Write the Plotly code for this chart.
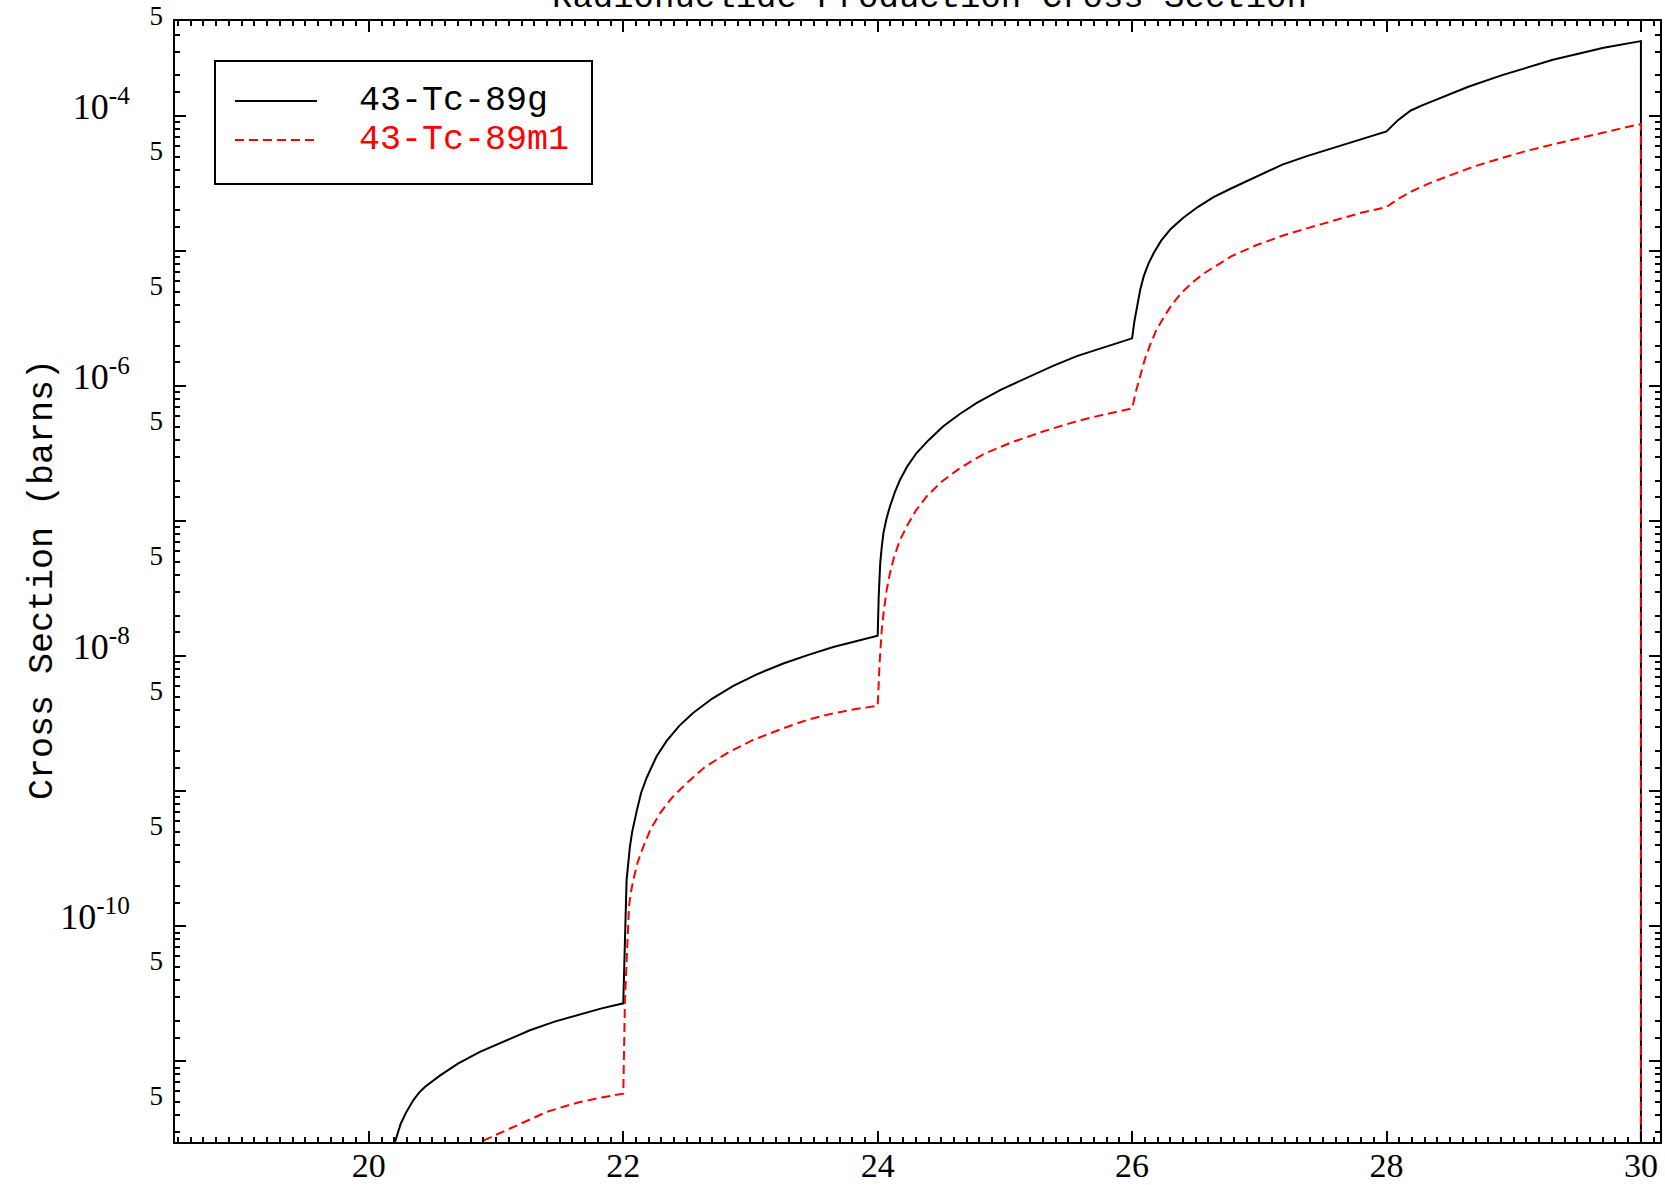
import plotly.graph_objects as go

# Incident energy (MeV) and production cross sections (barns)
energy_g = [20.200, 20.225, 20.250, 20.290, 20.349, 20.395, 20.440, 20.558, 20.700, 20.873,
            21.060, 21.266, 21.460, 21.659, 21.830, 22.000, 22.006, 22.013, 22.026, 22.052,
            22.070, 22.105, 22.140, 22.184, 22.260, 22.341, 22.440, 22.551, 22.700, 22.865,
            23.050, 23.258, 23.450, 23.651, 23.830, 24.000, 24.008, 24.013, 24.020, 24.032,
            24.045, 24.070, 24.097, 24.135, 24.176, 24.235, 24.307, 24.400, 24.516, 24.640,
            24.779, 24.970, 25.172, 25.370, 25.565, 25.780, 26.000, 26.018, 26.038, 26.063,
            26.091, 26.128, 26.171, 26.230, 26.304, 26.400, 26.516, 26.640, 26.782, 26.980,
            27.181, 27.380, 27.580, 27.790, 28.000, 28.090, 28.191, 28.280, 28.378, 28.643,
            28.909, 29.308, 29.707, 30.000, 30.000]
xs_g = [2.44e-12, 2.96e-12, 3.44e-12, 4.14e-12, 5.15e-12, 5.87e-12, 6.46e-12, 7.85e-12, 9.62e-12, 1.175e-11,
        1.41e-11, 1.70e-11, 1.97e-11, 2.24e-11, 2.47e-11, 2.69e-11, 5.01e-11, 9.38e-11, 2.20e-10, 3.88e-10,
        5.01e-10, 7.10e-10, 9.71e-10, 1.26e-9, 1.80e-9, 2.36e-9, 3.05e-9, 3.82e-9, 4.86e-9, 6.03e-9,
        7.35e-9, 8.83e-9, 1.02e-8, 1.17e-8, 1.30e-8, 1.42e-8, 2.77e-8, 3.72e-8, 4.90e-8, 6.46e-8,
        8.17e-8, 1.05e-7, 1.29e-7, 1.64e-7, 2.03e-7, 2.57e-7, 3.21e-7, 3.98e-7, 5.05e-7, 6.17e-7,
        7.52e-7, 9.44e-7, 1.15e-6, 1.40e-6, 1.67e-6, 1.95e-6, 2.26e-6, 3.02e-6, 3.86e-6, 5.13e-6,
        6.50e-6, 8.04e-6, 9.73e-6, 1.20e-5, 1.46e-5, 1.76e-5, 2.12e-5, 2.51e-5, 2.92e-5, 3.59e-5,
        4.37e-5, 5.07e-5, 5.82e-5, 6.73e-5, 7.69e-5, 9.33e-5, 1.10e-4, 1.20e-4, 1.31e-4, 1.65e-4,
        2.01e-4, 2.61e-4, 3.20e-4, 3.59e-4, 1e-20]

energy_m1 = [20.800, 21.000, 21.135, 21.270, 21.397, 21.530, 21.659, 21.830, 22.000, 22.013,
             22.030, 22.045, 22.060, 22.078, 22.115, 22.157, 22.215, 22.288, 22.380, 22.498,
             22.640, 22.813, 23.020, 23.258, 23.450, 23.651, 23.830, 24.000, 24.015, 24.032,
             24.050, 24.071, 24.095, 24.123, 24.170, 24.228, 24.300, 24.386, 24.500, 24.648,
             24.830, 25.041, 25.300, 25.565, 25.780, 26.000, 26.030, 26.064, 26.100, 26.144,
             26.190, 26.250, 26.310, 26.383, 26.470, 26.570, 26.670, 26.782, 26.970, 27.181,
             27.380, 27.580, 27.790, 28.000, 28.090, 28.191, 28.330, 28.510, 28.700, 28.909,
             29.100, 29.308, 29.500, 29.707, 29.850, 30.000, 30.000]
xs_m1 = [2.35e-12, 2.85e-12, 3.27e-12, 3.73e-12, 4.22e-12, 4.62e-12, 5.00e-12, 5.40e-12, 5.77e-12, 2.82e-11,
         7.94e-11, 1.41e-10, 1.78e-10, 2.20e-10, 3.02e-10, 3.88e-10, 5.25e-10, 6.87e-10, 8.91e-10, 1.15e-9,
         1.51e-9, 1.91e-9, 2.40e-9, 2.93e-9, 3.39e-9, 3.78e-9, 4.07e-9, 4.29e-9, 8.91e-9, 1.57e-8,
         2.24e-8, 3.10e-8, 4.07e-8, 5.19e-8, 7.08e-8, 9.14e-8, 1.20e-7, 1.53e-7, 1.95e-7, 2.48e-7,
         3.13e-7, 3.80e-7, 4.62e-7, 5.50e-7, 6.17e-7, 6.84e-7, 9.12e-7, 1.22e-6, 1.58e-6, 2.05e-6,
         2.60e-6, 3.25e-6, 3.98e-6, 4.86e-6, 5.82e-6, 6.89e-6, 7.94e-6, 9.18e-6, 1.10e-5, 1.30e-5,
         1.48e-5, 1.68e-5, 1.91e-5, 2.12e-5, 2.43e-5, 2.75e-5, 3.16e-5, 3.67e-5, 4.27e-5, 4.90e-5,
         5.52e-5, 6.17e-5, 6.84e-5, 7.55e-5, 8.13e-5, 8.73e-5, 1e-20]

series_names = ["43-Tc-89g", "43-Tc-89m1"]
series_colors = ["black", "red"]

x_tick_vals = [20, 22, 24, 26, 28, 30]
x_tick_text = ["20", "22", "24", "26", "28", "30"]

decade_exps = list(range(-12, -2))
decade_vals = [10.0 ** e for e in decade_exps]
decade_text = [f"10<sup>{e}</sup>" if e % 2 == 0 else "" for e in decade_exps]
minor_mantissas = [1.5, 2, 3, 4, 5, 6, 7, 8, 9]
minor_vals = [m * 10.0 ** e for e in decade_exps for m in minor_mantissas]
minor_text = ["5" if m == 5 else "" for e in decade_exps for m in minor_mantissas]

X_RANGE = [18.476, 30.15]
Y_RANGE = [-11.597, -3.296]

W, H = 1665, 1185
ML, MR, MT, MB = 175, 5, 21, 43
PW, PH = W - ML - MR, H - MT - MB
TEXT_FONT = "Liberation Mono"
NUM_FONT = "Liberation Serif"


def px_x(px):
    return (px - ML) / PW


def px_y(px):
    return 1 - (px - MT) / PH


fig = go.Figure()
fig.add_trace(go.Scatter(x=energy_g, y=xs_g, mode="lines", name=series_names[0],
                         line=dict(color=series_colors[0], width=2)))
fig.add_trace(go.Scatter(x=energy_m1, y=xs_m1, mode="lines", name=series_names[1],
                         line=dict(color=series_colors[1], width=2, dash="9px,5px")))
# empty trace that carries the secondary (minor tick) log axis
fig.add_trace(go.Scatter(x=[None], y=[None], yaxis="y2", mode="lines",
                         showlegend=False, hoverinfo="skip"))

axis_common = dict(showgrid=False, zeroline=False, tickcolor="black", automargin=False)

fig.update_layout(
    width=W, height=H,
    margin=dict(l=ML, r=MR, t=MT, b=MB),
    paper_bgcolor="white", plot_bgcolor="white",
    showlegend=False,
    font=dict(family=TEXT_FONT, size=32, color="black"),
    xaxis=dict(
        range=X_RANGE, tickmode="array", tickvals=x_tick_vals, ticktext=x_tick_text,
        ticks="inside", ticklen=11, tickwidth=2, showline=True, linewidth=2,
        linecolor="black", mirror="ticks", tickfont=dict(family=NUM_FONT, size=34),
        ticklabelstandoff=-8,
        minor=dict(dtick=0.1, tick0=0, ticks="inside", ticklen=5, tickwidth=1.5,
                   tickcolor="black", showgrid=False),
        **axis_common,
    ),
    yaxis=dict(
        type="log", range=Y_RANGE, tickmode="array", tickvals=decade_vals,
        ticktext=decade_text, ticks="inside", ticklen=11, tickwidth=2,
        showline=True, linewidth=2, linecolor="black", mirror="ticks",
        tickfont=dict(family=NUM_FONT, size=36), ticklabelstandoff=36,
        ticklabelshift=-10,
        **axis_common,
    ),
    yaxis2=dict(
        type="log", range=Y_RANGE, overlaying="y", side="left", anchor="x",
        tickmode="array", tickvals=minor_vals, ticktext=minor_text,
        ticks="inside", ticklen=5, tickwidth=1.5, mirror="ticks", showline=False,
        tickfont=dict(family=NUM_FONT, size=27), ticklabelstandoff=11,
        ticklabelshift=-6,
        **axis_common,
    ),
)

# plot title, partly above the frame
fig.add_annotation(text="Radionuclide Production Cross Section", xref="paper", yref="paper",
                   x=px_x(929), y=px_y(-2), xanchor="center", yanchor="middle",
                   showarrow=False, font=dict(family=TEXT_FONT, size=34, color="black"))

# y-axis title
fig.add_annotation(text="Cross Section (barns)", xref="paper", yref="paper",
                   x=px_x(43), y=px_y(580), xanchor="center", yanchor="middle",
                   textangle=-90, showarrow=False,
                   font=dict(family=TEXT_FONT, size=35, color="black"))

# legend box
fig.add_shape(type="rect", xref="paper", yref="paper",
              x0=px_x(215), x1=px_x(592), y0=px_y(184), y1=px_y(61),
              line=dict(color="black", width=2), fillcolor="white", layer="above")
legend_rows = [101, 140]
dashes = ["solid", "9px,5px"]
for name, color, row, dash in zip(series_names, series_colors, legend_rows, dashes):
    fig.add_shape(type="line", xref="paper", yref="paper",
                  x0=px_x(235), x1=px_x(317), y0=px_y(row), y1=px_y(row),
                  line=dict(color=color, width=2, dash=dash), layer="above")
    fig.add_annotation(text=name, xref="paper", yref="paper",
                       x=px_x(357), y=px_y(row), xanchor="left", yanchor="middle",
                       showarrow=False, font=dict(family=TEXT_FONT, size=35, color=color))

fig.write_html("out.html")
